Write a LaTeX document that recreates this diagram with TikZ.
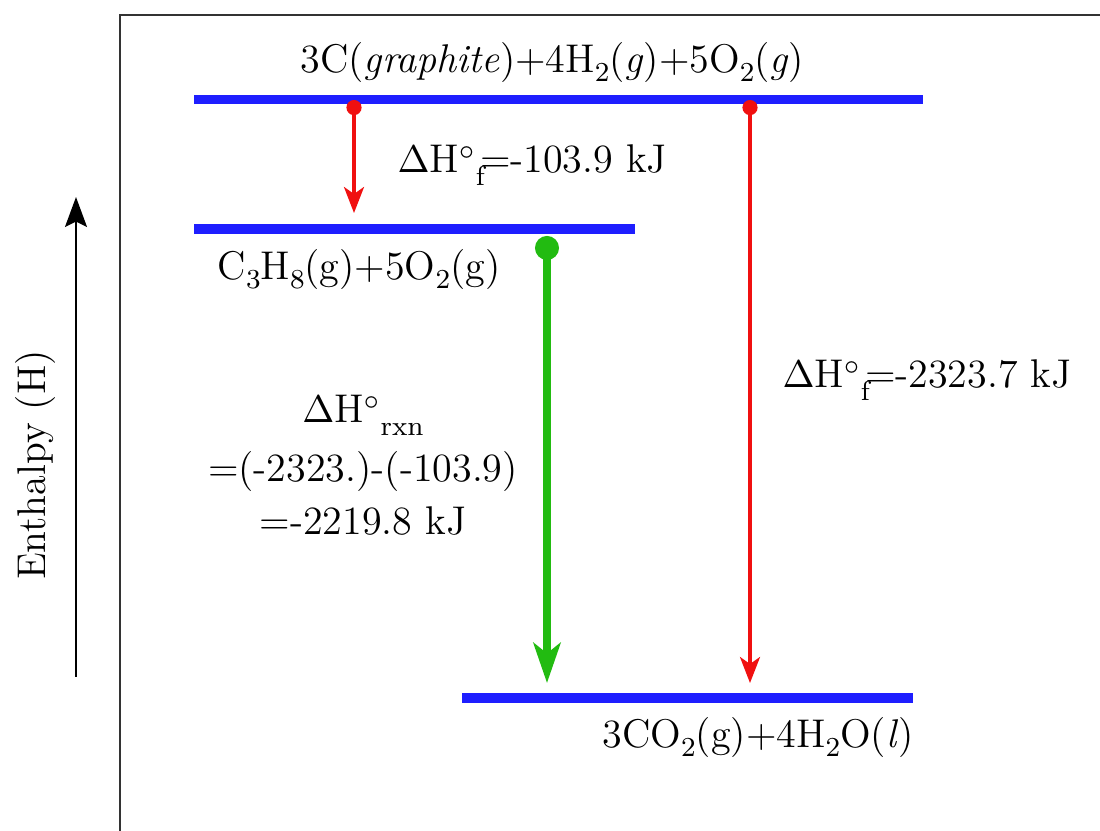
\documentclass[tikz,border=0pt]{standalone}
\usetikzlibrary{arrows.meta, positioning}
\definecolor{levelBlue}{HTML}{1E1EFF}
\definecolor{pathRed}{HTML}{F01010}
\definecolor{pathGreen}{HTML}{22BB11}
\definecolor{frameGray}{HTML}{333333}
\newcommand{\dn}[1]{\raisebox{-0.22em}{\fontsize{7.8}{8}\selectfont #1}}
\newcommand{\dnf}[1]{\raisebox{-0.32em}{\fontsize{7.8}{8}\selectfont #1}}
\newcommand{\dH}{$\Delta$H$^\circ$}
\tikzset{
  levelLine/.style={levelBlue, line width=2.6pt},
  arrowRed/.style={{Circle[length=4.3pt]}-{Stealth[length=7.4pt, width=5.7pt, inset=2pt]},
                   pathRed, line width=0.9pt},
  arrowGreen/.style={{Circle[length=6.8pt]}-{Stealth[length=11.4pt, width=7.7pt, inset=3pt]},
                     pathGreen, line width=2pt},
  arrowAxis/.style={-{Stealth[length=8.5pt, width=6.2pt, inset=1.5pt]}, black, line width=0.85pt},
  txt/.style={inner sep=0pt, anchor=base west, font=\fontsize{11.4}{13}\selectfont},
}
\begin{document}
\begin{tikzpicture}[x=0.01cm, y=-0.01cm]
    \useasboundingbox (0,0) rectangle (1100,831);
    \draw[frameGray, line width=0.6pt] (1100,15) -- (120,15) -- (120,831);
    % levels
    \coordinate (topL) at (194,99.5);  \coordinate (topR) at (923,99.5);
    \coordinate (midL) at (194,229);   \coordinate (midR) at (635,229);
    \coordinate (botL) at (462,698);   \coordinate (botR) at (913,698);
    \draw[levelLine] (topL) -- (topR);
    \draw[levelLine] (midL) -- (midR);
    \draw[levelLine] (botL) -- (botR);
    \node[txt] (react) at (300,73)
      {3C(\textit{graphite})+4H\dn{2}(\textit{g})+5O\dn{2}(\textit{g})};
    \node[txt] (propane) at (217,280) {C\dn{3}H\dn{8}(g)+5O\dn{2}(g)};
    \node[txt] (prod) at (602,748) {3CO\dn{2}(g)+4H\dn{2}O(\textit{l})};
    % arrows
    \coordinate (fA) at (354,100);  \coordinate (fB) at (354,213);
    \coordinate (gA) at (547,236);  \coordinate (gB) at (547,683);
    \coordinate (hA) at (750,100);  \coordinate (hB) at (750,683);
    \draw[arrowRed] (fA) -- (fB);
    \draw[arrowGreen] (gA) -- (gB);
    \draw[arrowRed] (hA) -- (hB);
    \node[txt] (dHa) at (397,173) {\dH\dnf{f}\kern-0.12em=-103.9 kJ};
    \node[txt] (dHb) at (782,388) {\dH\dnf{f}\kern-0.12em=-2323.7 kJ};
    \node[txt, anchor=base] (rxnA) at (363,423) {\dH\dnf{rxn}};
    \node[txt, anchor=base] (rxnB) at (363,482) {=(-2323.)-(-103.9)};
    \node[txt, anchor=base] (rxnC) at (363,535) {=-2219.8 kJ};
    % enthalpy axis
    \coordinate (axA) at (76,677);  \coordinate (axB) at (76,197);
    \draw[arrowAxis] (axA) -- (axB);
    \node[txt, anchor=base, rotate=90] (axis) at (45,465) {Enthalpy (H)};
  \end{tikzpicture}
\end{document}
